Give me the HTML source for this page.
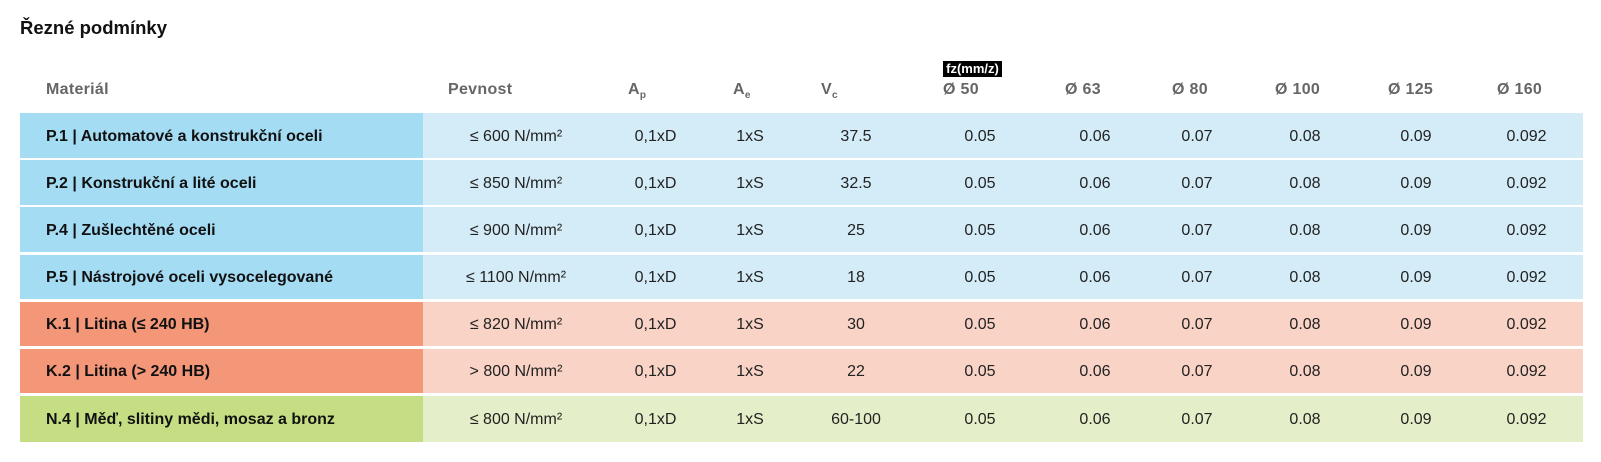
<!DOCTYPE html>
<html>
<head>
<meta charset="utf-8">
<style>
  html,body{margin:0;padding:0;background:#fff;}
  body{width:1601px;height:462px;position:relative;overflow:hidden;font-family:"Liberation Sans",sans-serif;}
  .abs{position:absolute;white-space:nowrap;}
  .title{left:20px;top:17px;font-size:18.5px;line-height:22px;font-weight:bold;color:#111;}
  .hd{top:80px;font-size:16px;line-height:20px;font-weight:bold;color:#666;letter-spacing:0.3px;}
  .hd sub{font-size:10px;vertical-align:-4px;letter-spacing:0;}
  .fz{left:943px;top:61px;width:59px;height:16px;background:#000;color:#fff;font-size:13px;line-height:16px;font-weight:bold;text-align:center;}
  .row{position:absolute;left:20px;width:1563px;height:44.5px;}
  .c1{position:absolute;left:0;top:0;width:403px;height:100%;}
  .c2{position:absolute;left:403px;top:0;width:1160px;height:100%;}
  .lab{position:absolute;left:26px;top:1.5px;line-height:44.5px;font-size:16px;font-weight:bold;color:#111;white-space:nowrap;}
  .v{position:absolute;top:1.5px;width:200px;text-align:center;line-height:44.5px;font-size:16px;color:#222;white-space:nowrap;}
  .blue .c1{background:#a4dcf4;} .blue .c2{background:#d3ecf8;}
  .org .c1{background:#f49779;} .org .c2{background:#f9d3c6;}
  .grn .c1{background:#c5de83;} .grn .c2{background:#e4efc9;}
</style>
</head>
<body>
<div class="abs title">Řezné podmínky</div>

<div class="abs hd" style="left:46px;">Materiál</div>
<div class="abs hd" style="left:448px;">Pevnost</div>
<div class="abs hd" style="left:628px;">A<sub>p</sub></div>
<div class="abs hd" style="left:733px;">A<sub>e</sub></div>
<div class="abs hd" style="left:821px;">V<sub>c</sub></div>
<div class="abs fz">fz(mm/z)</div>
<div class="abs hd" style="left:943px;">Ø 50</div>
<div class="abs hd" style="left:1065px;">Ø 63</div>
<div class="abs hd" style="left:1172px;">Ø 80</div>
<div class="abs hd" style="left:1275px;">Ø 100</div>
<div class="abs hd" style="left:1388px;">Ø 125</div>
<div class="abs hd" style="left:1497px;">Ø 160</div>

<div class="row blue" style="top:113px;">
  <div class="c1"></div><div class="c2"></div>
  <div class="lab">P.1 | Automatové a konstrukční oceli</div>
  <div class="v" style="left:396px;">≤ 600 N/mm²</div>
  <div class="v" style="left:535.5px;">0,1xD</div>
  <div class="v" style="left:630px;">1xS</div>
  <div class="v" style="left:736px;">37.5</div>
  <div class="v" style="left:860px;">0.05</div>
  <div class="v" style="left:975px;">0.06</div>
  <div class="v" style="left:1077px;">0.07</div>
  <div class="v" style="left:1185px;">0.08</div>
  <div class="v" style="left:1296px;">0.09</div>
  <div class="v" style="left:1406.5px;">0.092</div>
</div>

<div class="row blue" style="top:160.2px;">
  <div class="c1"></div><div class="c2"></div>
  <div class="lab">P.2 | Konstrukční a lité oceli</div>
  <div class="v" style="left:396px;">≤ 850 N/mm²</div>
  <div class="v" style="left:535.5px;">0,1xD</div>
  <div class="v" style="left:630px;">1xS</div>
  <div class="v" style="left:736px;">32.5</div>
  <div class="v" style="left:860px;">0.05</div>
  <div class="v" style="left:975px;">0.06</div>
  <div class="v" style="left:1077px;">0.07</div>
  <div class="v" style="left:1185px;">0.08</div>
  <div class="v" style="left:1296px;">0.09</div>
  <div class="v" style="left:1406.5px;">0.092</div>
</div>

<div class="row blue" style="top:207.4px;">
  <div class="c1"></div><div class="c2"></div>
  <div class="lab">P.4 | Zušlechtěné oceli</div>
  <div class="v" style="left:396px;">≤ 900 N/mm²</div>
  <div class="v" style="left:535.5px;">0,1xD</div>
  <div class="v" style="left:630px;">1xS</div>
  <div class="v" style="left:736px;">25</div>
  <div class="v" style="left:860px;">0.05</div>
  <div class="v" style="left:975px;">0.06</div>
  <div class="v" style="left:1077px;">0.07</div>
  <div class="v" style="left:1185px;">0.08</div>
  <div class="v" style="left:1296px;">0.09</div>
  <div class="v" style="left:1406.5px;">0.092</div>
</div>

<div class="row blue" style="top:254.6px;">
  <div class="c1"></div><div class="c2"></div>
  <div class="lab">P.5 | Nástrojové oceli vysocelegované</div>
  <div class="v" style="left:396px;">≤ 1100 N/mm²</div>
  <div class="v" style="left:535.5px;">0,1xD</div>
  <div class="v" style="left:630px;">1xS</div>
  <div class="v" style="left:736px;">18</div>
  <div class="v" style="left:860px;">0.05</div>
  <div class="v" style="left:975px;">0.06</div>
  <div class="v" style="left:1077px;">0.07</div>
  <div class="v" style="left:1185px;">0.08</div>
  <div class="v" style="left:1296px;">0.09</div>
  <div class="v" style="left:1406.5px;">0.092</div>
</div>

<div class="row org" style="top:301.6px;">
  <div class="c1"></div><div class="c2"></div>
  <div class="lab">K.1 | Litina (≤ 240 HB)</div>
  <div class="v" style="left:396px;">≤ 820 N/mm²</div>
  <div class="v" style="left:535.5px;">0,1xD</div>
  <div class="v" style="left:630px;">1xS</div>
  <div class="v" style="left:736px;">30</div>
  <div class="v" style="left:860px;">0.05</div>
  <div class="v" style="left:975px;">0.06</div>
  <div class="v" style="left:1077px;">0.07</div>
  <div class="v" style="left:1185px;">0.08</div>
  <div class="v" style="left:1296px;">0.09</div>
  <div class="v" style="left:1406.5px;">0.092</div>
</div>

<div class="row org" style="top:348.8px;">
  <div class="c1"></div><div class="c2"></div>
  <div class="lab">K.2 | Litina (&gt; 240 HB)</div>
  <div class="v" style="left:396px;">&gt; 800 N/mm²</div>
  <div class="v" style="left:535.5px;">0,1xD</div>
  <div class="v" style="left:630px;">1xS</div>
  <div class="v" style="left:736px;">22</div>
  <div class="v" style="left:860px;">0.05</div>
  <div class="v" style="left:975px;">0.06</div>
  <div class="v" style="left:1077px;">0.07</div>
  <div class="v" style="left:1185px;">0.08</div>
  <div class="v" style="left:1296px;">0.09</div>
  <div class="v" style="left:1406.5px;">0.092</div>
</div>

<div class="row grn" style="top:396px;height:45.5px;">
  <div class="c1"></div><div class="c2"></div>
  <div class="lab">N.4 | Měď, slitiny mědi, mosaz a bronz</div>
  <div class="v" style="left:396px;">≤ 800 N/mm²</div>
  <div class="v" style="left:535.5px;">0,1xD</div>
  <div class="v" style="left:630px;">1xS</div>
  <div class="v" style="left:736px;">60-100</div>
  <div class="v" style="left:860px;">0.05</div>
  <div class="v" style="left:975px;">0.06</div>
  <div class="v" style="left:1077px;">0.07</div>
  <div class="v" style="left:1185px;">0.08</div>
  <div class="v" style="left:1296px;">0.09</div>
  <div class="v" style="left:1406.5px;">0.092</div>
</div>
</body>
</html>
